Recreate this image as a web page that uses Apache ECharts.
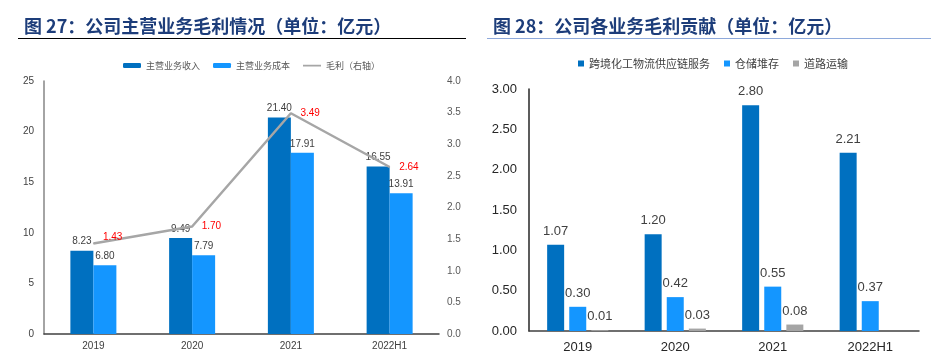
<!DOCTYPE html>
<html><head><meta charset="utf-8">
<script src="https://cdn.jsdelivr.net/npm/echarts@6/dist/echarts.min.js"></script>
<style>html,body{margin:0;padding:0;background:#fff}#c{width:931px;height:362px}</style>
</head><body><div id="c"></div>
<script>
// Left chart data
const catsL = ['2019','2020','2021','2022H1'];
const revenue = [8.23, 9.49, 21.40, 16.55];
const cost = [6.80, 7.79, 17.91, 13.91];
const gross = [1.43, 1.70, 3.49, 2.64];
// Right chart data
const catsR = ['2019','2020','2021','2022H1'];
const chemLogistics = [1.07, 1.20, 2.80, 2.21];
const storage = [0.30, 0.42, 0.55, 0.37];
const roadTransport = [0.01, 0.03, 0.08, '-'];

const CJK = '"Noto Sans CJK SC", sans-serif';
const NUM = 'Liberation Sans, Arial, sans-serif';
const DARK = '#0070C0', LIGHT = '#1496FF', GRAY = '#A6A6A6';

const grossData = gross.map((v, i) => i === 0 ? {value: v, label: {offset: [0, -6]}} : v);

const chart = echarts.init(document.getElementById('c'), null, {renderer:'canvas'});
chart.setOption({
  animation:false,
  backgroundColor:'#fff',
  title:[
    {text:'图 27：公司主营业务毛利情况（单位：亿元）', left:19, top:12,
     textStyle:{fontFamily:CJK, fontSize:18, fontWeight:'bold', color:'#1d3d7a'}},
    {text:'图 28：公司各业务毛利贡献（单位：亿元）', left:488, top:12,
     textStyle:{fontFamily:CJK, fontSize:18, fontWeight:'bold', color:'#1d3d7a'}}
  ],
  graphic:[
    {type:'line', shape:{x1:18,y1:38.5,x2:466,y2:38.5}, style:{stroke:'#000',lineWidth:1}},
    {type:'line', shape:{x1:487,y1:38.5,x2:931,y2:38.5}, style:{stroke:'#8EA9DB',lineWidth:1}}
  ],
  legend:[
    {data:['主营业务收入','主营业务成本',
           {name:'毛利（右轴）', icon:'path://M0,0h18v0h-18z M0,1.8h18v1.6h-18z M0,5h18v0h-18z'}],
     left:118, top:56,
     itemWidth:18, itemHeight:5, itemGap:13,
     textStyle:{fontFamily:CJK, fontSize:9, color:'#595959'}},
    {data:['跨境化工物流供应链服务','仓储堆存','道路运输'], left:573, top:53,
     icon:'rect', itemWidth:6, itemHeight:6, itemGap:14,
     textStyle:{fontFamily:CJK, fontSize:11, color:'#404040'}}
  ],
  grid:[
    {left:44, top:81, width:395, height:253},
    {left:529, top:89, width:390, height:242}
  ],
  xAxis:[
    {type:'category', gridIndex:0, data:catsL,
     axisLine:{lineStyle:{color:'#404040', width:1.5}}, axisTick:{show:false},
     axisLabel:{fontFamily:NUM, fontSize:10, color:'#404040', margin:7}},
    {type:'category', gridIndex:1, data:catsR,
     axisLine:{lineStyle:{color:'#404040', width:1.5}}, axisTick:{show:false},
     axisLabel:{fontFamily:NUM, fontSize:13, color:'#262626', margin:10}}
  ],
  yAxis:[
    {type:'value', gridIndex:0, min:0, max:25, interval:5,
     axisLine:{show:true, lineStyle:{color:'#868686', width:1.5}}, axisTick:{show:false},
     splitLine:{show:false},
     axisLabel:{fontFamily:NUM, fontSize:10, color:'#404040', margin:10}},
    {type:'value', gridIndex:0, position:'right', min:0, max:4, interval:0.5,
     axisLine:{show:false}, axisTick:{show:false}, splitLine:{show:false},
     axisLabel:{fontFamily:NUM, fontSize:10, color:'#595959', margin:8,
       formatter:v=>v.toFixed(1)}},
    {type:'value', gridIndex:1, min:0, max:3, interval:0.5,
     axisLine:{show:true, lineStyle:{color:'#262626', width:1.5}}, axisTick:{show:false},
     splitLine:{show:false},
     axisLabel:{fontFamily:NUM, fontSize:13, color:'#262626', margin:12,
       formatter:v=>v.toFixed(2)}}
  ],
  series:[
    {name:'主营业务收入', type:'bar', xAxisIndex:0, yAxisIndex:0, data:revenue,
     barWidth:23, barGap:'0%', itemStyle:{color:DARK},
     label:{show:true, position:'top', distance:4, fontFamily:NUM, fontSize:10, color:'#404040',
       formatter:p=>p.value.toFixed(2)}},
    {name:'主营业务成本', type:'bar', xAxisIndex:0, yAxisIndex:0, data:cost,
     barWidth:23, barGap:'0%', itemStyle:{color:LIGHT},
     label:{show:true, position:'top', distance:4, fontFamily:NUM, fontSize:10, color:'#404040',
       formatter:p=>p.value.toFixed(2)}},
    {name:'毛利（右轴）', type:'line', xAxisIndex:0, yAxisIndex:1, data:grossData,
     symbol:'circle', symbolSize:1, showSymbol:true,
     lineStyle:{color:GRAY, width:2.5}, itemStyle:{color:GRAY}, z:5,
     label:{show:true, position:'right', distance:9, offset:[0,0], fontFamily:NUM, fontSize:10, color:'#FF0000',
       formatter:p=>Number(p.value).toFixed(2)}},
    {name:'跨境化工物流供应链服务', type:'bar', xAxisIndex:1, yAxisIndex:2, data:chemLogistics,
     barWidth:17, barGap:'30%', itemStyle:{color:DARK},
     label:{show:true, position:'top', distance:7, fontFamily:NUM, fontSize:13, color:'#404040',
       formatter:p=>p.value.toFixed(2)}},
    {name:'仓储堆存', type:'bar', xAxisIndex:1, yAxisIndex:2, data:storage,
     barWidth:17, barGap:'30%', itemStyle:{color:LIGHT},
     label:{show:true, position:'top', distance:7, fontFamily:NUM, fontSize:13, color:'#404040',
       formatter:p=>p.value.toFixed(2)}},
    {name:'道路运输', type:'bar', xAxisIndex:1, yAxisIndex:2, data:roadTransport,
     barWidth:17, barGap:'30%', itemStyle:{color:'#A5A5A5'},
     label:{show:true, position:'top', distance:7, fontFamily:NUM, fontSize:13, color:'#404040',
       formatter:p=>(typeof p.value==='number'?p.value.toFixed(2):'')}}
  ]
});
</script></body></html>
